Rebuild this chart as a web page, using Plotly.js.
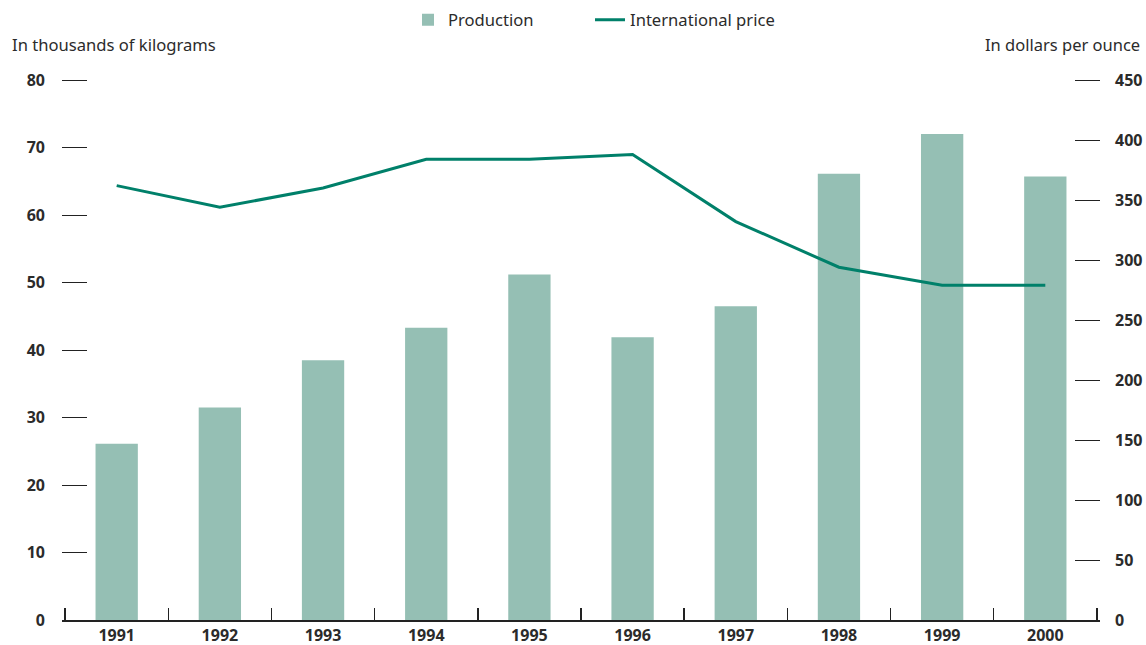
<!DOCTYPE html>
<html>
<head>
<meta charset="utf-8">
<script src="https://cdn.plot.ly/plotly-3.0.1.min.js"></script>
<style>html,body{margin:0;padding:0;background:#fff;}#chart{width:1146px;height:645px;}</style>
</head>
<body>
<div id="chart"></div>
<script>
const years = ["1991","1992","1993","1994","1995","1996","1997","1998","1999","2000"];
const production = [26.1, 31.5, 38.5, 43.3, 51.2, 41.9, 46.5, 66.1, 72.0, 65.7];
const price = [362, 344, 360, 384, 384, 388, 332, 294, 279, 279];
const leftTicks = [0,10,20,30,40,50,60,70,80];
const rightTicks = [0,50,100,150,200,250,300,350,400,450];

const fontFam = "Noto Sans, Open Sans, sans-serif";
const txt = "#2b2b2b";

const traces = [
  {type:"bar", x:years, y:production, name:"Production", marker:{color:"#95BFB4"}, width:0.41, yaxis:"y", legend:"legend"},
  {type:"scatter", mode:"lines", x:years, y:price, name:"International price", line:{color:"#00806A", width:3}, yaxis:"y2", legend:"legend2"}
];

const plotL = 62, plotW = 1146 - 62 - 46;
const layout = {
  width:1146, height:645,
  margin:{l:62, r:46, t:78, b:25},
  paper_bgcolor:"#fff", plot_bgcolor:"#fff",
  font:{family:fontFam, color:txt, size:15},
  showlegend:true,
  legend:{orientation:"h", x:(408-plotL)/plotW, xanchor:"left", y:1-20/645, yanchor:"middle", xref:"paper", yref:"container",
          font:{size:16.6, color:txt}},
  legend2:{orientation:"h", x:(590-plotL)/plotW, xanchor:"left", y:1-20/645, yanchor:"middle", xref:"paper", yref:"container",
          font:{size:16.6, color:txt}},
  bargap:0.59,
  xaxis:{type:"category", range:[-0.53, 9.53], showline:true, linecolor:"#222", linewidth:1.5, ticks:"inside", tickson:"boundaries",
         ticklen:12, tickcolor:"#222", tickwidth:1.5, showgrid:false, zeroline:false,
         tickfont:{size:16, color:txt, weight:"bold"}, ticklabelstandoff:0},
  yaxis:{range:[0,80.3], tickvals:leftTicks, ticks:"inside", ticklen:25, tickcolor:"#222", tickwidth:1,
         showgrid:false, zeroline:false, showline:false, tickfont:{size:16, color:txt, weight:"bold"},
         ticklabelstandoff:16},
  yaxis2:{range:[0,451.6875], tickvals:rightTicks, overlaying:"y", side:"right", ticks:"inside", ticklen:25,
          tickcolor:"#222", tickwidth:1, showgrid:false, zeroline:false, showline:false,
          tickfont:{size:16, color:txt, weight:"bold"}, ticklabelstandoff:14},
  annotations:[
    {text:"In thousands of kilograms", xref:"paper", yref:"paper", x:-0.05, y:1.0, xanchor:"left", yanchor:"bottom",
     yshift:20, showarrow:false, font:{size:16.6, color:txt}},
    {text:"In dollars per ounce", xref:"paper", yref:"paper", x:1.04, y:1.0, xanchor:"right", yanchor:"bottom",
     yshift:20, showarrow:false, font:{size:16.5, color:txt}}
  ]
};

Plotly.newPlot("chart", traces, layout, {displayModeBar:false, staticPlot:true});
</script>
</body>
</html>
